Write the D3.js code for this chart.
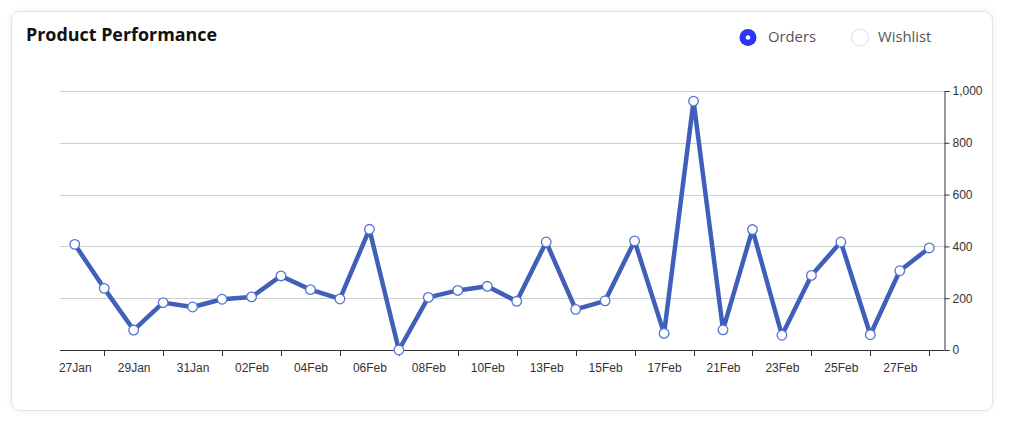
<!DOCTYPE html>
<html>
<head>
<meta charset="utf-8">
<script src="https://cdn.jsdelivr.net/npm/d3@7"></script>
<style>
  html, body { margin: 0; padding: 0; background: #fff; }
  #card {
    position: absolute; left: 11px; top: 11px; width: 980px; height: 398px;
    border: 1px solid #e4e4e4; border-radius: 9px; background: #fff;
    box-shadow: 0 0 7px rgba(0,0,0,0.07);
  }
  svg { position: absolute; left: 0; top: 0; }
</style>
</head>
<body>
<div id="card"></div>
<svg id="chart" width="1012" height="422"></svg>
<script>
const categories = ["27Jan","28Jan","29Jan","30Jan","31Jan","01Feb","02Feb","03Feb","04Feb","05Feb",
  "06Feb","07Feb","08Feb","09Feb","10Feb","12Feb","13Feb","14Feb","15Feb","16Feb",
  "17Feb","19Feb","21Feb","22Feb","23Feb","24Feb","25Feb","26Feb","27Feb","28Feb"];
const orders = [408,238,77,183,166,196,205,286,233,197,
  466,0,203,230,246,188,417,157,190,421,
  64,961,78,465,57,288,417,59,306,394];
const yTicks = [0,200,400,600,800,1000];
const legendItems = ["Orders","Wishlist"];

const svg = d3.select("#chart");
const x = d3.scalePoint().domain(categories).range([60, 944]).padding(0.5);
const y = d3.scaleLinear().domain([0, 1000]).range([350, 91]);

// title
svg.append("text").attr("x", 26).attr("y", 40.5)
  .attr("font-family", "'Open Sans', sans-serif").attr("font-weight", 700)
  .attr("font-size", 17.9).attr("fill", "#111").text("Product Performance");

// legend
const lg = svg.append("g");
lg.append("circle").attr("cx", 748).attr("cy", 37.5).attr("r", 8.5).attr("fill", "#2a35f8");
lg.append("circle").attr("cx", 748).attr("cy", 37.5).attr("r", 2.3).attr("fill", "#fff");
lg.append("text").attr("x", 768).attr("y", 41.5)
  .attr("font-family", "'Open Sans', sans-serif").attr("font-size", 14.8).attr("fill", "#555")
  .text(legendItems[0]);
lg.append("circle").attr("cx", 860).attr("cy", 37.5).attr("r", 8.5)
  .attr("fill", "#fff").attr("stroke", "#dcdcdc").attr("stroke-width", 1);
lg.append("text").attr("x", 878).attr("y", 41.5)
  .attr("font-family", "'Open Sans', sans-serif").attr("font-size", 14.8).attr("fill", "#555")
  .text(legendItems[1]);

// gridlines
svg.append("g").selectAll("line").data(yTicks.filter(d => d > 0)).join("line")
  .attr("x1", 60).attr("x2", 944)
  .attr("y1", d => Math.round(y(d)) + 0.5).attr("y2", d => Math.round(y(d)) + 0.5)
  .attr("stroke", "#cfcfcf").attr("stroke-width", 1);

// right y axis
const yAxis = d3.axisRight(y).tickValues(yTicks).tickSize(5).tickPadding(3)
  .tickFormat(d3.format(","));
const ya = svg.append("g").attr("transform", "translate(944.5,0)").call(yAxis);
ya.select(".domain").attr("stroke", "#333");
ya.selectAll(".tick line").attr("stroke", "#333");
ya.selectAll("text").attr("font-family", "'Liberation Sans', Arial, sans-serif")
  .attr("font-size", 12).attr("fill", "#333");

// bottom x axis: labels on even indices, ticks on odd indices
const evenCats = categories.filter((d, i) => i % 2 === 0);
const oddCats = categories.filter((d, i) => i % 2 === 1);
const xa = svg.append("g").attr("transform", "translate(0,350.5)")
  .call(d3.axisBottom(x).tickValues(evenCats).tickSize(0).tickPadding(13).tickSizeOuter(0));
xa.select(".domain").remove();
xa.selectAll("text").attr("font-family", "'Liberation Sans', Arial, sans-serif")
  .attr("font-size", 12).attr("fill", "#333");
svg.append("line").attr("x1", 60).attr("x2", 944).attr("y1", 350.5).attr("y2", 350.5)
  .attr("stroke", "#333");
svg.append("g").selectAll("line").data(oddCats).join("line")
  .attr("x1", d => Math.round(x(d)) + 0.5).attr("x2", d => Math.round(x(d)) + 0.5)
  .attr("y1", 350.5).attr("y2", 356).attr("stroke", "#333");

// line
const line = d3.line().x((d, i) => x(categories[i])).y(d => y(d));
svg.append("path").datum(orders).attr("d", line)
  .attr("fill", "none").attr("stroke", "#3f5fb9").attr("stroke-width", 4.5)
  .attr("stroke-linejoin", "bevel");

svg.append("g").selectAll("circle").data(orders).join("circle")
  .attr("cx", (d, i) => x(categories[i])).attr("cy", d => y(d)).attr("r", 4.8)
  .attr("fill", "#fff").attr("stroke", "#5574cf").attr("stroke-width", 1.3);
</script>
</body>
</html>
